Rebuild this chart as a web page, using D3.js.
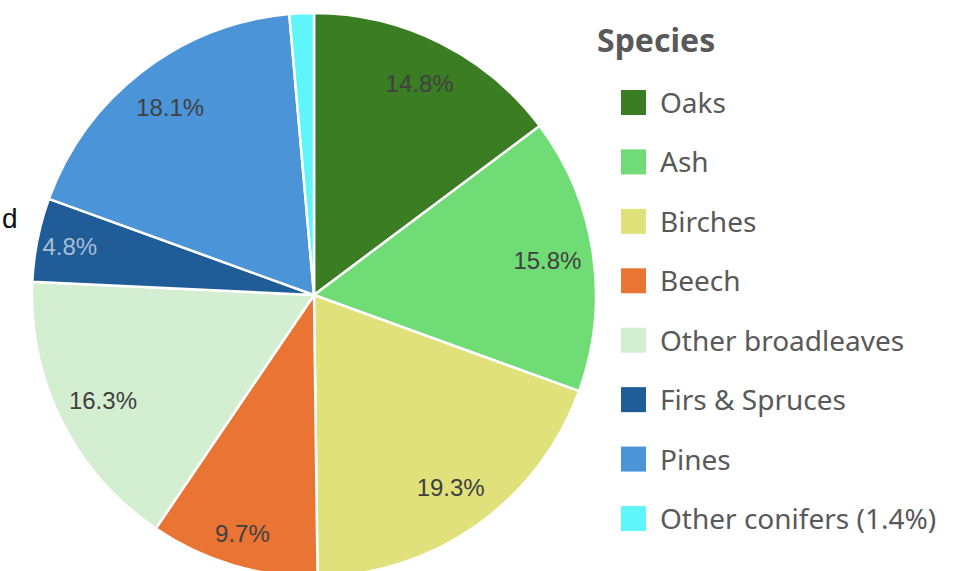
<!DOCTYPE html>
<html>
<head>
<meta charset="utf-8">
<script src="https://cdn.jsdelivr.net/npm/d3@7"></script>
<style>
  body { margin: 0; background: #fff; }
</style>
</head>
<body>
<svg id="chart"></svg>
<script>
// species shares (%)
const species = ['Oaks', 'Ash', 'Birches', 'Beech', 'Other broadleaves', 'Firs & Spruces', 'Pines', 'Other conifers'];
const shares = [14.8, 15.8, 19.3, 9.7, 16.3, 4.8, 18.1, 1.4];
const colors = ['#3b7d23', '#70dc76', '#e1e17b', '#e97434', '#d4eed1', '#1f5c98', '#4c94d8', '#5ff5fb'];
const legendLabels = ['Oaks', 'Ash', 'Birches', 'Beech', 'Other broadleaves', 'Firs & Spruces', 'Pines', 'Other conifers (1.4%)'];

const width = 979, height = 571;
const cx = 314, cy = 295, radius = 282;

const svg = d3.select('#chart')
  .attr('width', width)
  .attr('height', height);

const data = species.map((s, i) => ({ name: s, value: shares[i], color: colors[i] }));

const pie = d3.pie().sort(null).value((d) => d.value);
const arc = d3.arc().innerRadius(0).outerRadius(radius);
// narrow slices get their label pushed a bit further out
const labelArc = d3.arc()
  .innerRadius((d) => (d.data.value < 10 ? 249 : 236))
  .outerRadius((d) => (d.data.value < 10 ? 249 : 236));

const g = svg.append('g').attr('transform', `translate(${cx},${cy})`);

const arcs = pie(data);

g.selectAll('path')
  .data(arcs)
  .enter()
  .append('path')
  .attr('d', arc)
  .attr('fill', (d) => d.data.color)
  .attr('stroke', '#fff')
  .attr('stroke-width', 2.5);

// slice labels (the tiny slice has its value in the legend instead)
g.selectAll('text.pct')
  .data(arcs.filter((d) => d.data.value > 2))
  .enter()
  .append('text')
  .attr('class', 'pct')
  .attr('transform', (d) => `translate(${labelArc.centroid(d)})`)
  .attr('text-anchor', 'middle')
  .attr('dominant-baseline', 'central')
  .style('font-family', '"Liberation Sans", Arial, sans-serif')
  .style('font-size', '24px')
  .style('fill', (d) => d.data.name === 'Firs & Spruces' ? '#a9bcd6' : '#404040')
  .text((d) => d.data.value.toFixed(1) + '%');

// leftover text at the left edge
svg.append('text')
  .attr('x', 2)
  .attr('y', 228)
  .style('font-family', '"Liberation Sans", Arial, sans-serif')
  .style('font-size', '28px')
  .style('fill', '#111')
  .text('d');

// legend
const legend = svg.append('g').attr('transform', 'translate(597,0)');

legend.append('text')
  .attr('x', 0)
  .attr('y', 52)
  .style('font-family', '"Noto Sans", sans-serif')
  .style('font-size', '32px')
  .style('font-weight', 'bold')
  .style('fill', '#595959')
  .text('Species');

const y = d3.scalePoint()
  .domain(legendLabels)
  .range([102, 518]);

const items = legend.selectAll('g.item')
  .data(legendLabels)
  .enter()
  .append('g')
  .attr('class', 'item')
  .attr('transform', (d) => `translate(0,${y(d)})`);

items.append('rect')
  .attr('x', 24)
  .attr('y', -12)
  .attr('width', 25)
  .attr('height', 25)
  .attr('fill', (d, i) => colors[i]);

items.append('text')
  .attr('x', 63)
  .attr('y', 0)
  .attr('dominant-baseline', 'central')
  .style('font-family', '"Noto Sans", sans-serif')
  .style('font-size', '28px')
  .style('fill', '#595959')
  .text((d) => d);
</script>
</body>
</html>
